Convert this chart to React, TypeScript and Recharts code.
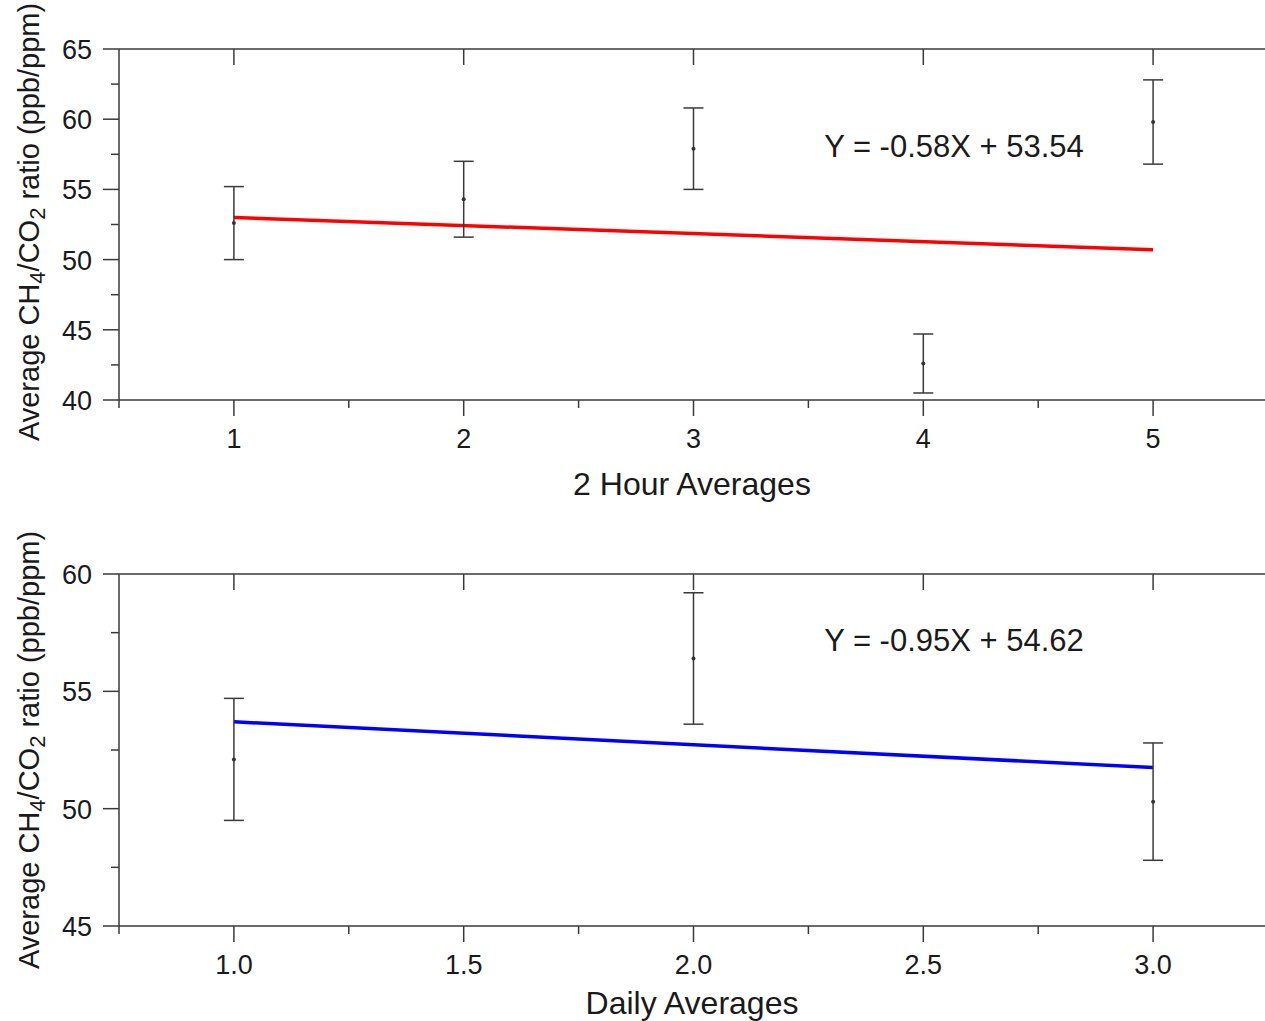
import React from "react";
import {
  ComposedChart, Scatter, Line, ErrorBar, XAxis, YAxis,
} from "recharts";

// 2 hour averages
const hourX = [1, 2, 3, 4, 5];
const hourMean = [52.6, 54.3, 57.9, 42.6, 59.8];
const hourErr = [2.6, 2.7, 2.9, 2.1, 3.0];
const hourFitX = [1, 5];
const hourFitY = [53.0, 50.7];
const hourXTicks = [0.5, 1, 1.5, 2, 2.5, 3, 3.5, 4, 4.5, 5, 5.5];
const hourXLabels = [1, 2, 3, 4, 5];
const hourYTicks = [40, 42.5, 45, 47.5, 50, 52.5, 55, 57.5, 60, 62.5, 65];
const hourYLabels = [40, 45, 50, 55, 60, 65];

// daily averages
const dayX = [1, 2, 3];
const dayMean = [52.1, 56.4, 50.3];
const dayErr = [2.6, 2.8, 2.5];
const dayFitX = [1, 3];
const dayFitY = [53.7, 51.75];
const dayXTicks = [0.75, 1, 1.25, 1.5, 1.75, 2, 2.25, 2.5, 2.75, 3, 3.25];
const dayXLabels = [1, 1.5, 2, 2.5, 3];
const dayYTicks = [45, 47.5, 50, 52.5, 55, 57.5, 60];
const dayYLabels = [45, 50, 55, 60];

const FONT = '"Liberation Sans", Arial, sans-serif';
const AXIS = "#3a3a3a";
const TXT = "#1a1a1a";

const pts = (xs: number[], ys: number[], es?: number[]) =>
  xs.map((x, i) => ({ x, y: ys[i], err: es ? es[i] : 0 }));

function BottomTick(props: any) {
  const { x, y, payload, labels, fmt } = props;
  const major = labels.includes(payload.value);
  return (
    <g>
      <line x1={x} y1={y} x2={x} y2={y + (major ? 16 : 8)} stroke={AXIS} strokeWidth={1.5} />
      {major && (
        <text x={x} y={y + 48} textAnchor="middle" fontSize={27} fontFamily={FONT} fill={TXT}>
          {fmt(payload.value)}
        </text>
      )}
    </g>
  );
}

function TopTick(props: any) {
  const { x, y } = props;
  return <line x1={x} y1={y} x2={x} y2={y + 16} stroke={AXIS} strokeWidth={1.5} />;
}

function LeftTick(props: any) {
  const { x, y, payload, labels } = props;
  const major = labels.includes(payload.value);
  return (
    <g>
      <line x1={x} y1={y} x2={x - (major ? 16 : 8)} y2={y} stroke={AXIS} strokeWidth={1.5} />
      {major && (
        <text x={x - 27} y={y + 10} textAnchor="end" fontSize={27} fontFamily={FONT} fill={TXT}>
          {payload.value}
        </text>
      )}
    </g>
  );
}

const Dot = (p: any) => <circle cx={p.cx} cy={p.cy} r={2} fill="#333" />;

function Panel(props: {
  top: number; height: number; axisH: number;
  xDomain: number[]; xTicks: number[]; xLabels: number[]; fmt: (v: number) => string;
  yDomain: number[]; yTicks: number[]; yLabels: number[];
  data: { x: number; y: number; err: number }[];
  fit: { x: number; y: number }[]; color: string;
}) {
  return (
    <div style={{ position: "absolute", left: 0, top: props.top }}>
      <ComposedChart width={1265} height={props.height} margin={{ top: 49, right: -3, left: 0, bottom: 0 }}>
        <XAxis
          xAxisId="b" dataKey="x" type="number" domain={props.xDomain} ticks={props.xTicks}
          allowDataOverflow interval={0} height={props.axisH} tickSize={0} tickMargin={0} tickLine={false}
          axisLine={{ stroke: AXIS, strokeWidth: 1.5 }}
          tick={(p: any) => <BottomTick {...p} labels={props.xLabels} fmt={props.fmt} />}
        />
        <XAxis
          xAxisId="t" orientation="top" mirror dataKey="x" type="number" domain={props.xDomain}
          ticks={props.xLabels} allowDataOverflow interval={0} tickSize={0} tickMargin={0} tickLine={false}
          axisLine={{ stroke: AXIS, strokeWidth: 1.5 }} tick={(p: any) => <TopTick {...p} />}
        />
        <YAxis
          yAxisId="l" type="number" domain={props.yDomain} ticks={props.yTicks} allowDataOverflow
          interval={0} width={119} tickSize={0} tickMargin={0} tickLine={false}
          axisLine={{ stroke: AXIS, strokeWidth: 1.5 }}
          tick={(p: any) => <LeftTick {...p} labels={props.yLabels} />}
        />
        <YAxis
          yAxisId="r" orientation="right" mirror type="number" domain={props.yDomain}
          tick={false} tickLine={false} axisLine={{ stroke: "#b5b5b5", strokeWidth: 1 }}
        />
        <Line
          xAxisId="b" yAxisId="l" data={props.fit} dataKey="y" type="linear" stroke={props.color}
          strokeWidth={3.5} dot={false} isAnimationActive={false}
        />
        <Scatter
          xAxisId="b" yAxisId="l" data={props.data} dataKey="y" shape={Dot} isAnimationActive={false}
        >
          <ErrorBar dataKey="err" direction="y" width={10} stroke={AXIS} strokeWidth={1.5} />
        </Scatter>
      </ComposedChart>
    </div>
  );
}

function YTitle({ cy }: { cy: number }) {
  return (
    <div
      style={{
        position: "absolute", left: 32, top: cy, transform: "translate(-50%, -50%) rotate(-90deg)",
        whiteSpace: "nowrap", fontFamily: FONT, fontSize: 29, lineHeight: 1, color: TXT,
      }}
    >
      Average CH<sub style={{ fontSize: 22, verticalAlign: -6 }}>4</sub>/CO
      <sub style={{ fontSize: 22, verticalAlign: -6 }}>2</sub> ratio (ppb/ppm)
    </div>
  );
}

function Txt({ x, y, size, children }: { x: number; y: number; size: number; children: React.ReactNode }) {
  return (
    <div
      style={{
        position: "absolute", left: x, top: y, transform: "translate(-50%, -50%)",
        whiteSpace: "nowrap", fontFamily: FONT, fontSize: size, lineHeight: 1, color: TXT,
      }}
    >
      {children}
    </div>
  );
}

export default function App() {
  return (
    <div style={{ position: "absolute", left: 0, top: 0, width: 1265, height: 1021, background: "#fff" }}>
      <Panel
        top={0} height={510} axisH={110}
        xDomain={[0.5, 5.5]} xTicks={hourXTicks} xLabels={hourXLabels} fmt={(v) => String(v)}
        yDomain={[40, 65]} yTicks={hourYTicks} yLabels={hourYLabels}
        data={pts(hourX, hourMean, hourErr)} fit={pts(hourFitX, hourFitY)} color="#ff0000"
      />
      <Panel
        top={525} height={496} axisH={95}
        xDomain={[0.75, 3.25]} xTicks={dayXTicks} xLabels={dayXLabels} fmt={(v) => v.toFixed(1)}
        yDomain={[45, 60]} yTicks={dayYTicks} yLabels={dayYLabels}
        data={pts(dayX, dayMean, dayErr)} fit={pts(dayFitX, dayFitY)} color="#0000ff"
      />
      <YTitle cy={222} />
      <YTitle cy={750} />
      <Txt x={692} y={484} size={32}>2 Hour Averages</Txt>
      <Txt x={692} y={1003} size={32}>Daily Averages</Txt>
      <Txt x={954} y={146} size={31}>Y = -0.58X + 53.54</Txt>
      <Txt x={954} y={640} size={31}>Y = -0.95X + 54.62</Txt>
    </div>
  );
}
